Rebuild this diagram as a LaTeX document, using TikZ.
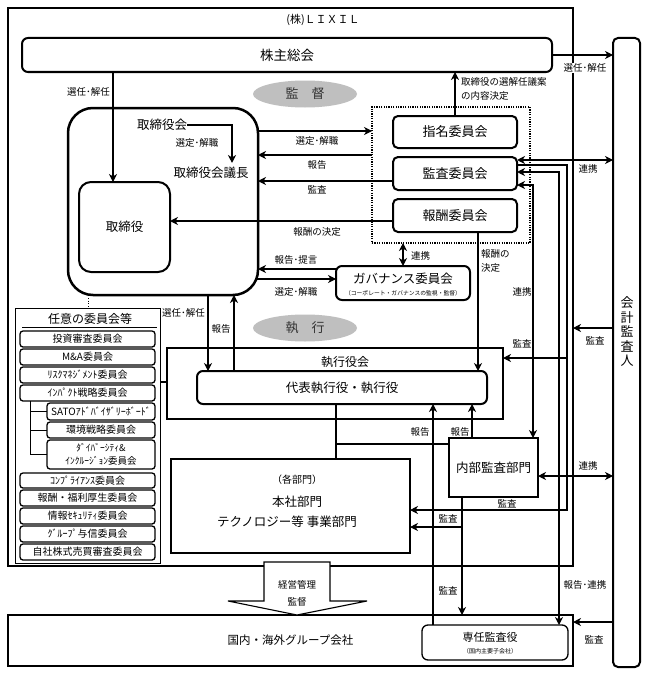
\documentclass[tikz,border=0pt]{standalone}
\usepackage{fontspec}
\setmainfont{Noto Sans CJK JP}
\usetikzlibrary{arrows.meta,shapes.geometric,calc}
\newcommand\fs[1]{\fontsize{#1}{#1}\selectfont}
\newcommand\place[6]{\node[#2, minimum width={(#5-#3)*1pt}, minimum height={(#6-#4)*1pt}] (#1) at (#3,#4)}
\begin{document}
\begin{tikzpicture}[x=1pt,y=-1pt,
  >={Stealth[length=8pt,width=8pt,inset=2.5pt]},
  ln/.style={line width=1.1pt},
  bx/.style={draw, line width=2pt, inner sep=0pt, outer sep=0pt, anchor=north west},
  rb/.style={bx, rounded corners=#1}, rb/.default=5pt,
  lbl/.style={font=\fs{9.5}, inner sep=0pt},
  txt/.style={inner sep=0pt},
  itm/.style={bx, line width=1.3pt, rounded corners=3pt, font=\fs{10}},
  oval/.style={ellipse, fill=black!25, minimum width=104pt, minimum height=27pt, inner sep=0pt, font=\fs{13}, text=black!80}]
\useasboundingbox (0,0) rectangle (648,677);
\fill[white] (0,0) rectangle (648,677);

% frame
\place{lixil}{bx}{8}{8}{573}{566} {};
\node[txt, font=\fs{11}] (ttl) at (323,20) {(株)ＬＩＸＩＬ};
\place{kabu}{rb=6pt, font=\fs{13.5}}{22}{38}{552}{72} {株主総会};
\place{kaikei}{rb=5pt}{613}{38}{640}{667} {};
\node[txt, font=\fontsize{13}{14.5}\selectfont, align=center] (kaikeit) at (627,332) {会\\計\\監\\査\\人};

\node[oval] (kantoku) at (305,94) {監　督};
\node[oval] (shikkou) at (305,328) {執　行};

% board
\place{board}{rb=25pt, line width=2.5pt}{68}{108}{258}{295} {};
\node[txt, font=\fs{12.5}] (tkai) at (162,125) {取締役会};
\node[txt, font=\fs{12.5}] (gichou) at (211,173) {取締役会議長};
\draw[ln,->] (tkai.east) -| ([xshift=21pt, yshift=4pt]gichou.north);
\node[lbl] at (197,143) {選定･解職};
\place{tori}{rb=12pt, font=\fs{12.5}}{79}{182}{170}{272} {取締役};
\draw[ln,->] (kabu.south -| 113,0) -- (tori.north -| 113,0);
\node[lbl, anchor=east] at (110,92) {選任･解任};

% committees
\place{iin}{bx, line width=1.2pt, dash pattern=on 1.2pt off 1.2pt}{372}{107}{530}{243} {};
\place{shimei}{rb=5pt, font=\fs{13}}{393}{116}{517}{148} {指名委員会};
\place{kansa}{rb=5pt, font=\fs{13}}{393}{157}{517}{190} {監査委員会};
\place{houshu}{rb=5pt, font=\fs{13}}{393}{199}{517}{232} {報酬委員会};

\draw[ln,->] (board.east |- 0,131) -- (iin.west |- 0,131);
\node[lbl] at (317,141) {選定･解職};
\draw[ln,->] (iin.west |- 0,155) -- (board.east |- 0,155);
\node[lbl] at (317,165) {報告};
\draw[ln,->] (kansa.west |- 0,181) -- (board.east |- 0,181);
\node[lbl] at (317,190) {監査};
\draw[ln,->] (houshu.west |- 0,221) -- (tori.east |- 0,221);
\node[lbl] at (317,232) {報酬の決定};

\draw[ln,->] (shimei.north) -- (kabu.south -| shimei.north);
\node[lbl, anchor=west] at (461,82) {取締役の選解任議案};
\node[lbl, anchor=west] at (461,96) {の内容決定};

% governance
\place{gov}{rb=6pt}{336}{266}{470}{300} {};
\node[txt, font=\fs{12.5}] (govt) at (403,279) {ガバナンス委員会};
\node[txt, font=\fs{5.8}] (govs) at (403,293) {（コーポレート・ガバナンスの監視・監督）};
\draw[ln,<->] (gov.north |- iin.south) -- (gov.north);
\node[lbl, anchor=west] at (411,256) {連携};
\draw[ln,->] (gov.west |- 0,269) -- (board.east |- 0,269);
\node[lbl] at (296,260) {報告･提言};
\draw[ln,->] ($(board.east |- 0,279)+(-2,0)$) -- (gov.west |- 0,279);
\node[lbl] at (296,292) {選定･解職};

% execution
\place{shikkoukai}{bx, line width=2.5pt}{167}{348}{503}{419} {};
\node[txt, font=\fs{12}] (skt) at (345,362) {執行役会};
\place{daihyou}{rb=6pt, font=\fs{12.5}}{197}{371}{487}{404} {代表執行役・執行役};
\draw[ln,->] (houshu.south -| 478,0) -- (daihyou.north -| 478,0);
\node[lbl, anchor=west] at (481,254) {報酬の};
\node[lbl, anchor=west] at (481,268) {決定};
\node[lbl] at (522,292) {連携};
\draw[ln,->] (board.south -| 208,0) -- (daihyou.north -| 208,0);
\node[lbl, anchor=east] at (205,313) {選任･解任};
\draw[ln,->] (daihyou.north -| 234,0) -- (board.south -| 234,0);
\node[lbl] at (221,329) {報告};

% list of voluntary committees
\place{list}{bx, line width=0.8pt}{15}{308}{160}{563} {};
\draw[line width=0.8pt, dotted] (board.south -| 88,0) -- (list.north -| 88,0);
\node[txt, font=\fs{12}] (listt) at (90,319) {任意の委員会等};
\draw[line width=0.8pt] (22,327) -- (157,327);
\place{c1}{itm}{20}{331}{155}{347} {投資審査委員会};
\place{c2}{itm}{20}{349}{155}{365} {M\&A委員会};
\place{c3}{itm}{20}{367}{155}{383} {ﾘｽｸﾏﾈｼﾞﾒﾝﾄ委員会};
\place{c4}{itm}{20}{385}{155}{401} {ｲﾝﾊﾟｸﾄ戦略委員会};
\place{c5}{itm}{47}{403}{155}{420} {SATOｱﾄﾞﾊﾞｲｻﾞﾘｰﾎﾞｰﾄﾞ};
\place{c6}{itm}{47}{422}{155}{438} {環境戦略委員会};
\place{c7}{itm, align=center, font=\fontsize{9.5}{13}\selectfont}{47}{440}{155}{469} {ﾀﾞｲﾊﾞｰｼﾃｨ\&\\ｲﾝｸﾙｰｼﾞｮﾝ委員会};
\place{c8}{itm}{20}{473}{155}{488} {ｺﾝﾌﾟﾗｲｱﾝｽ委員会};
\place{c9}{itm}{20}{490}{155}{506} {報酬・福利厚生委員会};
\place{c10}{itm}{20}{508}{155}{524} {情報ｾｷｭﾘﾃｨ委員会};
\place{c11}{itm}{20}{526}{155}{542} {ｸﾞﾙｰﾌﾟ与信委員会};
\place{c12}{itm}{20}{544}{155}{560} {自社株式売買審査委員会};
\draw[line width=1pt] (c4.south -| 30,0) |- (c7.west);
\draw[line width=1pt] (c5.west -| 30,0) -- (c5.west);
\draw[line width=1pt] (c6.west -| 30,0) -- (c6.west);
\draw[ln] (list.east |- 0,382) -- (shikkoukai.west |- 0,382);

% departments
\place{naibu}{bx, font=\fs{12.5}}{449}{438}{538}{497} {内部監査部門};
\place{honsha}{bx, line width=2.5pt}{171}{459}{410}{553} {};
\node[txt, font=\fs{10}] (h1) at (297,480) {（各部門）};
\node[txt, font=\fs{12.5}] (h2) at (297,502) {本社部門};
\node[txt, font=\fs{12.5}] (h3) at (287,522) {テクノロジー等 事業部門};

% bottom
\place{kokunai}{bx, font=\fs{11.5}}{8}{615}{573}{666} {国内・海外グループ会社};
\place{senin}{rb=6pt, line width=1.3pt}{422}{625}{568}{660} {};
\node[txt, font=\fs{11}] (s1) at (490,637) {専任監査役};
\node[txt, font=\fs{6}] (s2) at (490,651) {（国内主要子会社）};

% internal connectors
\coordinate (j1) at (336,444);
\coordinate (j2) at (462,527);
\coordinate (j3) at (567,510);
\coordinate (j4) at (567,358);
\draw[ln] (daihyou.south -| j1) -- (honsha.north -| j1);
\draw[ln] (j1) -- (naibu.west |- j1);
\draw[ln,->] (senin.north -| 433,0) -- (daihyou.south -| 433,0);
\node[lbl] at (420,432) {報告};
\draw[ln,->] (naibu.north -| 472,0) -- (daihyou.south -| 472,0);
\node[lbl] at (460,432) {報告};
\draw[ln,->] (naibu.south -| j2) -- (kokunai.north -| j2);
\node[lbl] at (448,591) {監査};
\draw[ln,->] (j2) -- (honsha.east |- j2);
\node[lbl] at (448,519) {監査};
\draw[ln,->] (kansa.east |- 0,165) -| (j3) -- (honsha.east |- j3);
\draw[ln,->] (j4) -- (shikkoukai.east |- j4);
\node[lbl] at (522,344) {監査};
\node[lbl] at (507,504) {監査};
\draw[ln,<->] (kansa.east |- 0,172) -| (senin.north -| 559,0);
\node[lbl] at (585,585) {報告･連携};
\draw[ln,<->] (kansa.east |- 0,185) -| (naibu.north -| 533,0);

% external auditor connectors
\draw[ln,<->] (kansa.east |- 0,160) -- (kaikei.west |- 0,160);
\node[lbl] at (588,169) {連携};
\draw[ln,->] (kabu.east |- 0,55) -- (kaikei.west |- 0,55);
\node[lbl, fill=white, inner sep=1pt] at (585,68) {選任･解任};
\draw[ln,->] (kaikei.west |- 0,328) -- (lixil.east |- 0,328);
\node[lbl] at (595,341) {監査};
\draw[ln,<->] (naibu.east |- 0,476) -- (kaikei.west |- 0,476);
\node[lbl] at (588,466) {連携};
\draw[ln,->] (kaikei.west |- 0,622) -- (kokunai.east |- 0,622);
\node[lbl] at (594,640) {監査};

% big arrow
\draw[line width=1.1pt, fill=white] (264,562) -- (330,562) -- (330,601) -- (367,601) -- (297,615) -- (228,601) -- (264,601) -- cycle;
\node[lbl] (bg1) at (297,585) {経営管理};
\node[lbl] (bg2) at (297,602) {監督};
\end{tikzpicture}
\end{document}
